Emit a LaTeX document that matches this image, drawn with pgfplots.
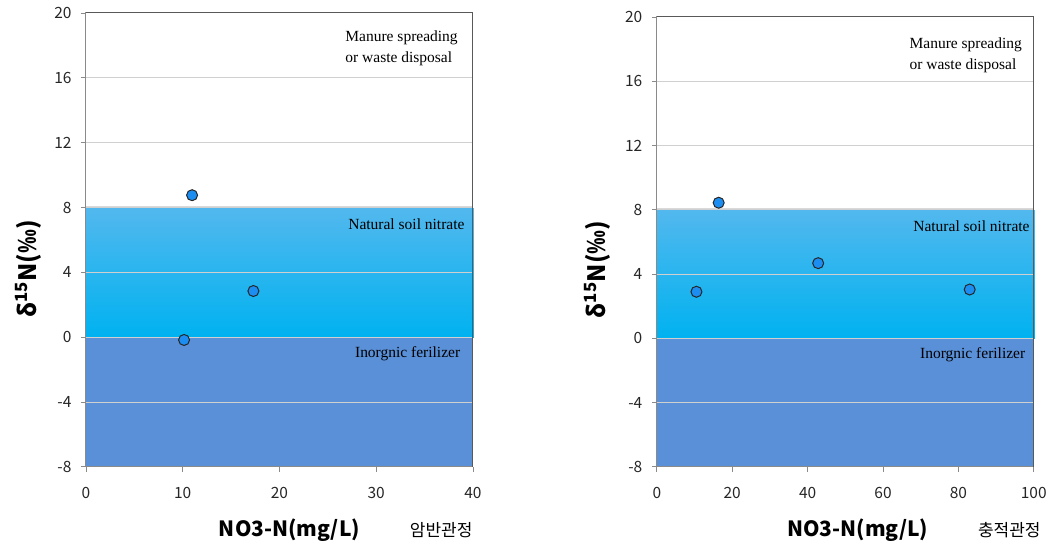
\documentclass[border=0pt]{standalone}
\usepackage{pgfplots}
\pgfplotsset{compat=1.18}
\usepackage{fontspec}
\setmainfont{Liberation Serif}
\newfontfamily\labfont{Noto Sans CJK KR}
\definecolor{natTop}{HTML}{52B8EE}
\definecolor{natBot}{HTML}{00B2F0}
\definecolor{inorg}{HTML}{5A90D8}
\definecolor{gridc}{HTML}{D0D0D0}
\definecolor{axc}{HTML}{8A8A8A}
\definecolor{boxc}{HTML}{595959}
\definecolor{ptc}{HTML}{1C8EF2}
\pgfplotstableread{
x y
10.97 8.76
17.31 2.85
10.14 -0.17
}\leftdata
\pgfplotstableread{
x y
10.5 2.90
16.4 8.44
42.8 4.68
83.0 3.04
}\rightdata
\tikzset{ann/.style={font=\fontsize{15.5}{21}\selectfont, text=black, anchor=west, inner sep=0pt}}
\pgfplotsset{
  set layers,
  myax/.style={
    scale only axis,
    anchor=south west,
    ymin=-8, ymax=20,
    ytick={-8,-4,0,4,8,12,16,20},
    ymajorgrids,
    major grid style={draw=gridc, line width=1pt},
    axis line style={draw=axc, line width=1pt},
    tick align=outside,
    xtick pos=left, ytick pos=left,
    major tick length=5pt,
    tick style={draw=axc, line width=0.8pt},
    ticklabel style={font=\labfont\fontsize{15.5}{17}\selectfont, text=black!85},
    /pgf/number format/assume math mode=true,
    yticklabel style={xshift=-6pt},
    xticklabel style={yshift=-12pt},
    ylabel={\textbf{δ\textsuperscript{15}N(‰)}},
    ylabel style={font=\labfont\fontsize{24}{26}\selectfont\bfseries},
    xlabel style={font=\labfont\fontsize{21}{24}\selectfont\bfseries},
    colormap={nat}{color=(natBot) color=(natTop)},
    point meta min=0, point meta max=1,
    clip=false,
  },
  band/.style={draw=none, on layer=axis background},
  pts/.style={only marks, mark=*, mark size=5.5pt, mark options={fill=ptc, draw=black!85, line width=1pt}},
}
\begin{document}
\begin{tikzpicture}
% left axis
\begin{axis}[myax,
  at={(86pt,79pt)}, width=387pt, height=454pt,
  xmin=0, xmax=40, xtick={0,10,20,30,40},
  xlabel={NO3-N(mg/L)},
  xlabel style={at={(axis description cs:0.526,-0.139)}, anchor=center},
  ylabel style={at={(axis description cs:-0.150,0.436)}, anchor=center},
]
\addplot[band, fill=inorg] coordinates {(0,-8) (40,-8) (40,0) (0,0) (0,-8)};
\addplot[patch, patch type=rectangle, shader=interp, on layer=axis background, point meta=explicit] table[meta=c] {
x y c
0 0 0
40 0 0
40 8 1
0 8 1
};
\addplot[on layer=axis background, draw=white!70!gray, line width=1.5pt] coordinates {(0,8.05) (40,8.05)};
\addplot[pts] table[x=x,y=y] {\leftdata};
\draw[boxc, line width=1pt] (rel axis cs:0,1) -- (rel axis cs:1,1) -- (rel axis cs:1,0);
\node[ann] at (axis cs:26.8,18.5) {Manure spreading};
\node[ann] at (axis cs:26.8,17.2) {or waste disposal};
\node[ann] at (axis cs:27.1,7.0) {Natural soil nitrate};
\node[ann] at (axis cs:27.8,-1.0) {Inorgnic ferilizer};
\node[font=\labfont\fontsize{17}{19}\selectfont, anchor=center] at (axis description cs:0.918,-0.139) {암반관정};
\end{axis}
% right axis
\begin{axis}[myax,
  at={(657pt,79pt)}, width=377pt, height=450pt,
  xmin=0, xmax=100, xtick={0,20,40,60,80,100},
  xlabel={NO3-N(mg/L)},
  xlabel style={at={(axis description cs:0.533,-0.14)}, anchor=center},
  ylabel style={at={(axis description cs:-0.157,0.439)}, anchor=center},
]
\addplot[band, fill=inorg] coordinates {(0,-8) (100,-8) (100,0) (0,0) (0,-8)};
\addplot[patch, patch type=rectangle, shader=interp, on layer=axis background, point meta=explicit] table[meta=c] {
x y c
0 0 0
100 0 0
100 8 1
0 8 1
};
\addplot[on layer=axis background, draw=white!70!gray, line width=1.5pt] coordinates {(0,8.05) (100,8.05)};
\addplot[pts] table[x=x,y=y] {\rightdata};
\draw[boxc, line width=1pt] (rel axis cs:0,1) -- (rel axis cs:1,1) -- (rel axis cs:1,0);
\node[ann] at (axis cs:67.0,18.25) {Manure spreading};
\node[ann] at (axis cs:68.0,6.95) {Natural soil nitrate};
\node[ann] at (axis cs:67.0,16.95) {or waste disposal};
\node[ann] at (axis cs:69.8,-1.0) {Inorgnic ferilizer};
\node[font=\labfont\fontsize{17}{19}\selectfont, anchor=center] at (axis description cs:0.935,-0.14) {충적관정};
\end{axis}
\path[use as bounding box] (0,0) rectangle (1050pt,546pt);
\end{tikzpicture}
\end{document}
